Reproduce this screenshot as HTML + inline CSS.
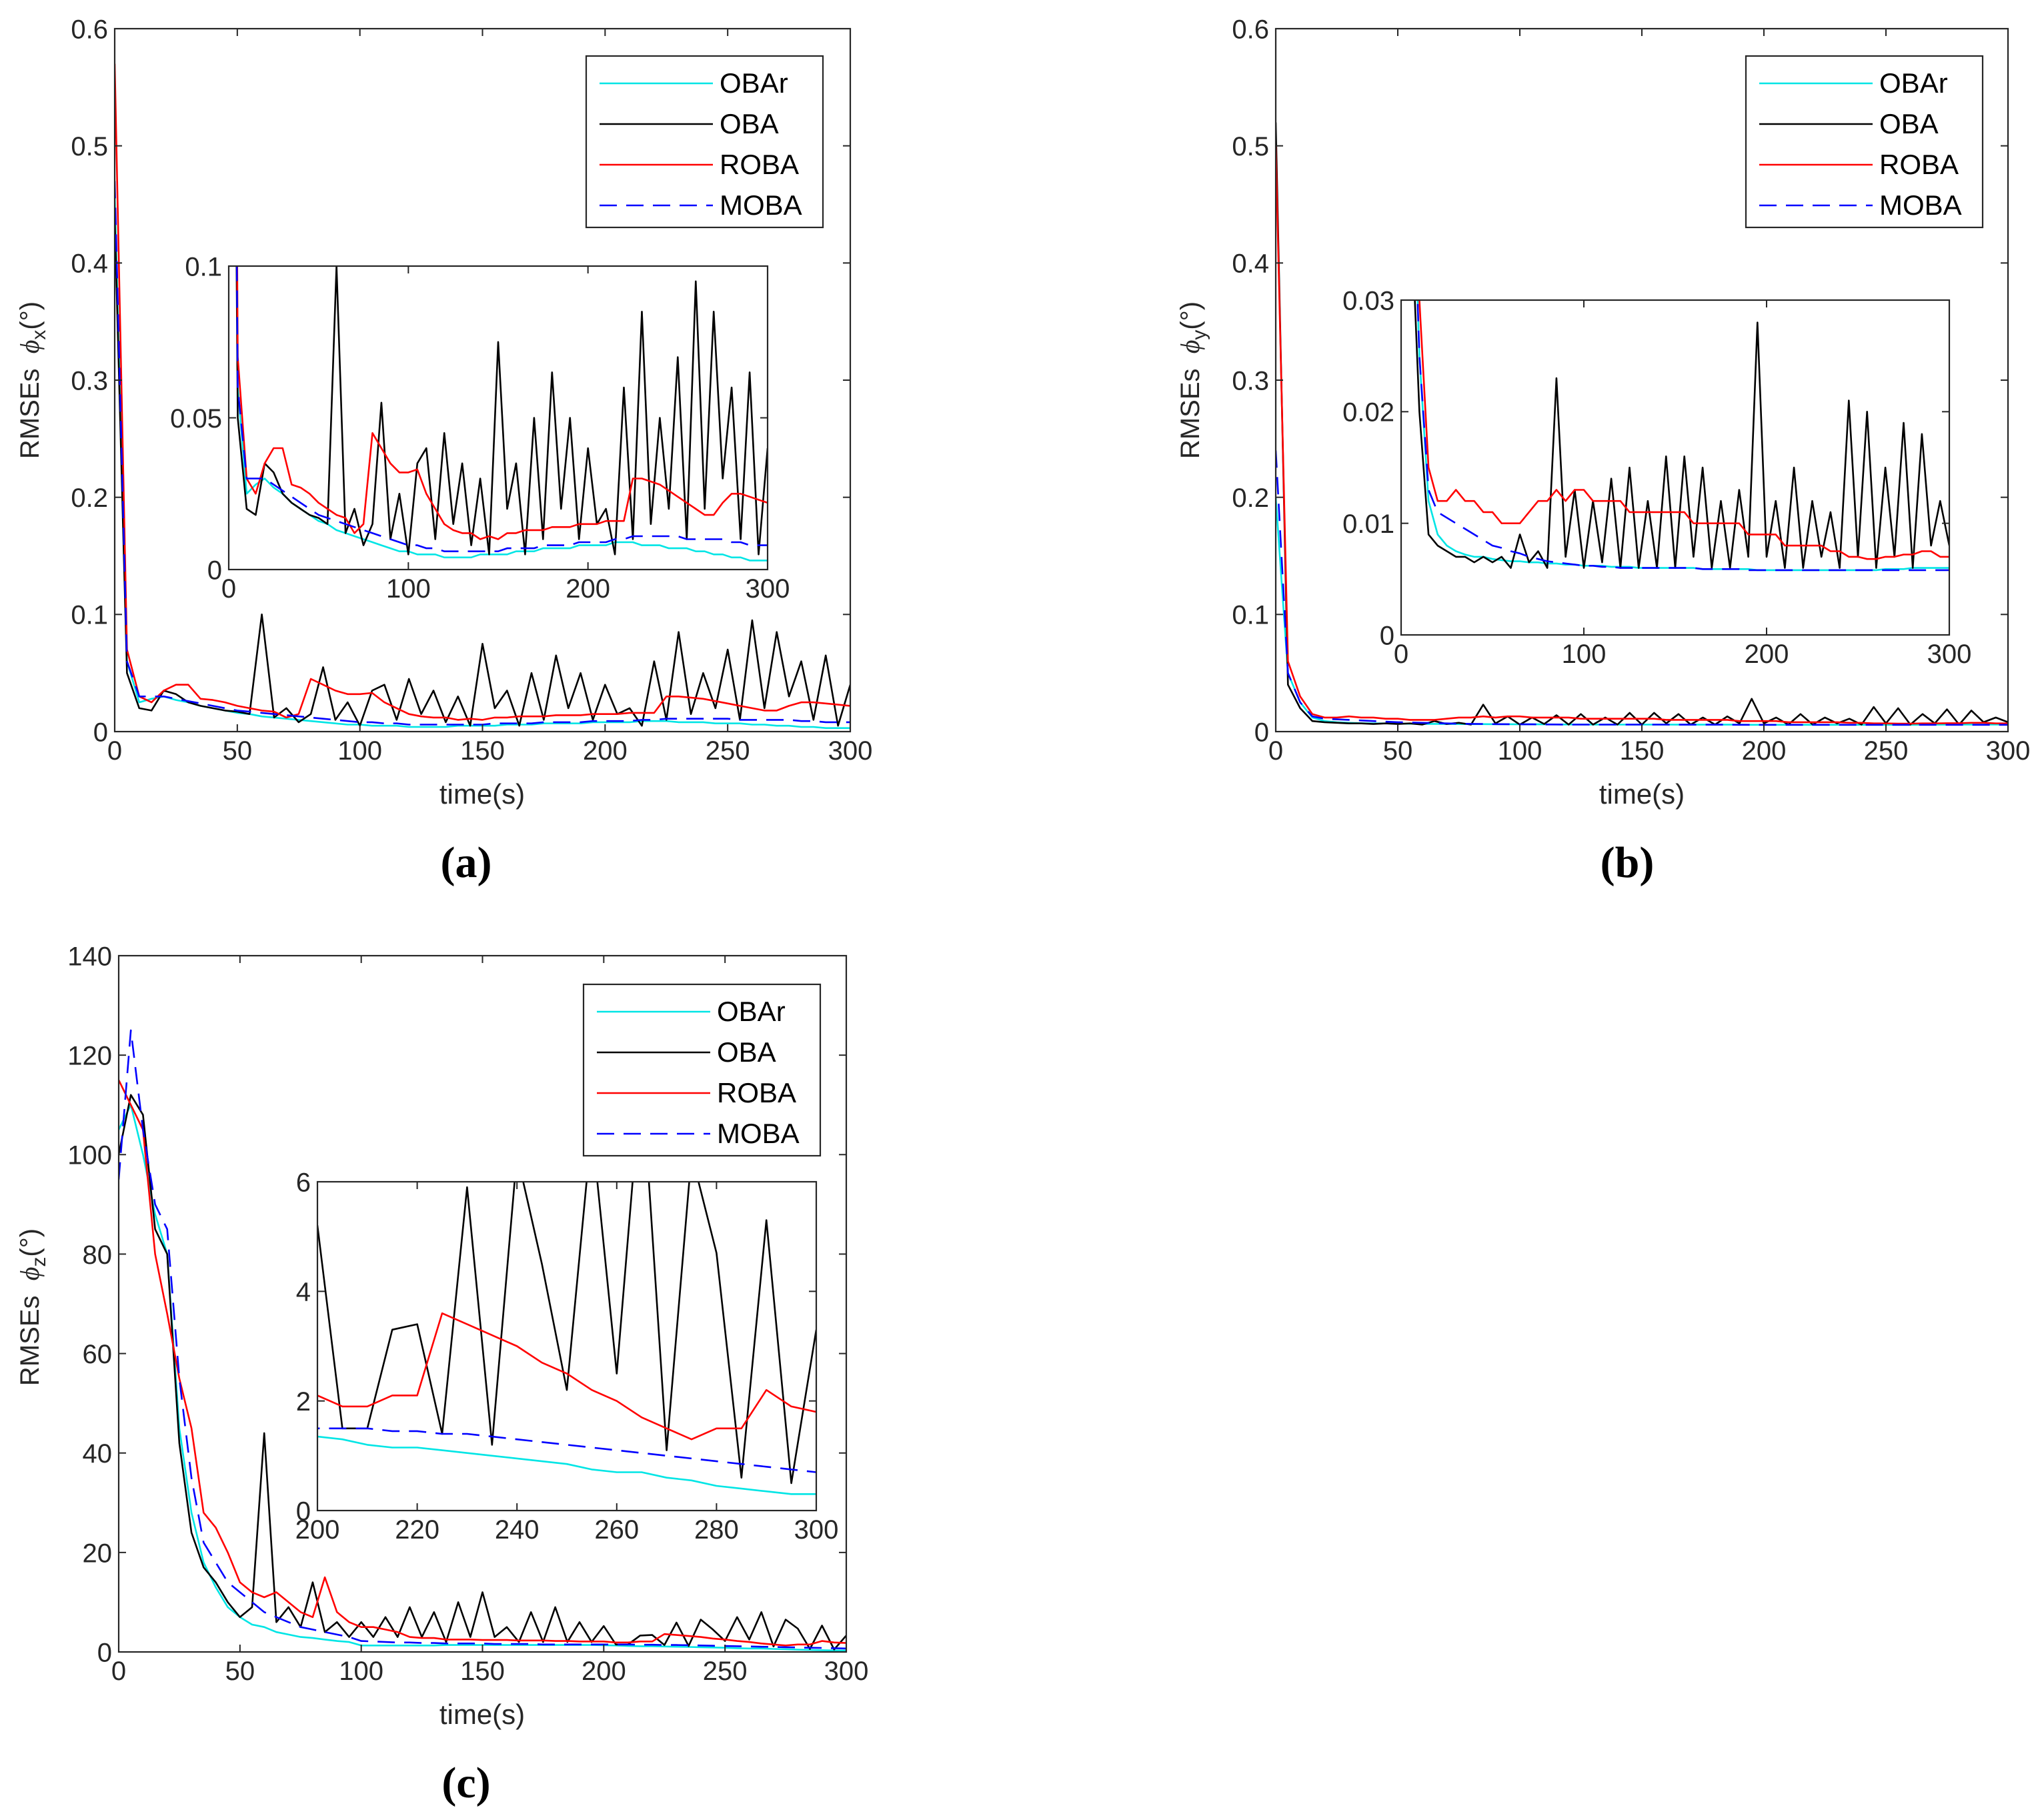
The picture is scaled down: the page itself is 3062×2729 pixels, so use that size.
<!DOCTYPE html>
<html><head><meta charset="utf-8">
<style>
html,body{margin:0;padding:0;background:#fff;}
svg{display:block;}
</style></head>
<body>
<svg id="fig" width="3062" height="2729" viewBox="0 0 3062 2729" xmlns="http://www.w3.org/2000/svg"></svg>
<script>
// time axis (s), one sample every 5 s
const timeA = [];
for (let i = 0; i <= 60; i++) timeA.push(i * 5);
const seriesNames = ["OBAr", "OBA", "ROBA", "MOBA"];

// Panel (a) phi_x
const aOBAr = [0.46,0.06,0.025,0.028,0.03,0.027,0.025,0.022,0.02,0.018,0.016,0.015,0.013,0.012,0.011,0.01,0.009,0.008,0.007,0.006,0.006,0.005,0.005,0.005,0.004,0.004,0.004,0.004,0.005,0.005,0.005,0.005,0.006,0.006,0.006,0.007,0.007,0.007,0.007,0.008,0.008,0.008,0.008,0.009,0.009,0.009,0.008,0.008,0.008,0.007,0.007,0.007,0.006,0.006,0.005,0.005,0.004,0.004,0.003,0.003,0.003];
const aOBA = [0.44,0.05,0.02,0.018,0.035,0.032,0.025,0.022,0.02,0.018,0.017,0.015,0.1,0.012,0.02,0.008,0.015,0.055,0.01,0.025,0.005,0.035,0.04,0.01,0.045,0.015,0.035,0.008,0.03,0.005,0.075,0.02,0.035,0.005,0.05,0.01,0.065,0.02,0.05,0.01,0.04,0.015,0.02,0.005,0.06,0.01,0.085,0.015,0.05,0.02,0.07,0.01,0.095,0.02,0.085,0.03,0.06,0.01,0.065,0.005,0.04];
const aROBA = [0.57,0.07,0.03,0.025,0.035,0.04,0.04,0.028,0.027,0.025,0.022,0.02,0.018,0.017,0.012,0.015,0.045,0.04,0.035,0.032,0.032,0.033,0.025,0.02,0.015,0.013,0.012,0.012,0.01,0.011,0.01,0.012,0.012,0.013,0.013,0.013,0.014,0.014,0.014,0.015,0.015,0.015,0.016,0.016,0.016,0.03,0.03,0.029,0.028,0.026,0.024,0.022,0.02,0.018,0.018,0.022,0.025,0.025,0.024,0.023,0.022];
const aMOBA = [0.47,0.06,0.03,0.03,0.03,0.028,0.026,0.024,0.022,0.02,0.018,0.017,0.016,0.015,0.014,0.013,0.012,0.011,0.01,0.009,0.008,0.008,0.007,0.007,0.006,0.006,0.006,0.006,0.006,0.006,0.006,0.007,0.007,0.007,0.007,0.008,0.008,0.008,0.008,0.009,0.009,0.009,0.009,0.01,0.01,0.011,0.011,0.011,0.011,0.011,0.011,0.01,0.01,0.01,0.01,0.01,0.009,0.009,0.008,0.008,0.008];

// Panel (b) phi_y
const bOBAr = [0.2,0.05,0.025,0.012,0.009,0.008,0.0075,0.0072,0.007,0.007,0.0068,0.0067,0.0066,0.0066,0.0065,0.0065,0.0064,0.0064,0.0063,0.0063,0.0062,0.0062,0.0062,0.0061,0.0061,0.0061,0.006,0.006,0.006,0.006,0.006,0.006,0.006,0.0059,0.0059,0.0059,0.0059,0.0059,0.0059,0.0058,0.0058,0.0058,0.0058,0.0058,0.0058,0.0058,0.0058,0.0058,0.0058,0.0058,0.0058,0.0058,0.0058,0.0059,0.0059,0.0059,0.006,0.006,0.006,0.006,0.006];
const bOBA = [0.52,0.04,0.02,0.009,0.008,0.0075,0.007,0.007,0.0065,0.007,0.0065,0.007,0.006,0.009,0.0065,0.0075,0.006,0.023,0.007,0.013,0.006,0.012,0.0065,0.014,0.006,0.015,0.006,0.012,0.006,0.016,0.006,0.016,0.007,0.015,0.006,0.012,0.006,0.013,0.007,0.028,0.007,0.012,0.006,0.015,0.006,0.012,0.007,0.011,0.006,0.021,0.007,0.02,0.006,0.015,0.007,0.019,0.006,0.018,0.008,0.012,0.008];
const bROBA = [0.5,0.06,0.03,0.015,0.012,0.012,0.013,0.012,0.012,0.011,0.011,0.01,0.01,0.01,0.011,0.012,0.012,0.013,0.012,0.013,0.013,0.012,0.012,0.012,0.012,0.011,0.011,0.011,0.011,0.011,0.011,0.011,0.01,0.01,0.01,0.01,0.01,0.01,0.009,0.009,0.009,0.009,0.008,0.008,0.008,0.008,0.008,0.0075,0.0075,0.007,0.007,0.0068,0.0068,0.007,0.007,0.0072,0.0072,0.0075,0.0075,0.007,0.007];
const bMOBA = [0.24,0.05,0.025,0.013,0.011,0.0105,0.01,0.0095,0.009,0.0085,0.008,0.0078,0.0075,0.0073,0.007,0.0068,0.0066,0.0065,0.0064,0.0063,0.0062,0.0062,0.0061,0.0061,0.006,0.006,0.006,0.006,0.006,0.006,0.006,0.006,0.006,0.0059,0.0059,0.0059,0.0059,0.0059,0.0058,0.0058,0.0058,0.0058,0.0058,0.0058,0.0058,0.0058,0.0058,0.0058,0.0058,0.0058,0.0058,0.0058,0.0058,0.0058,0.0058,0.0058,0.0058,0.0058,0.0058,0.0058,0.0058];

// Panel (c) phi_z
const cOBAr = [105,110,100,88,80,45,28,18,13,9,7,5.5,5,4,3.5,3,2.8,2.5,2.2,2,1.3,1.3,1.3,1.3,1.3,1.3,1.3,1.4,1.4,1.4,1.4,1.4,1.4,1.4,1.4,1.4,1.4,1.4,1.4,1.4,1.35,1.3,1.2,1.15,1.15,1.1,1.05,1.0,0.95,0.9,0.85,0.75,0.7,0.7,0.6,0.55,0.45,0.4,0.35,0.3,0.3];
const cOBA = [100,112,108,85,80,42,24,17,14,10,7,9,44,6,9,5,14,4,6,3,6,3,7,3,9,3,8,2,10,3,12,3,5,2,8,2,9,2,6,2,5.2,1.5,1.5,3.3,3.4,1.4,5.9,1.2,6.5,4.5,2.2,7,2.5,8,1.1,6.5,4.7,0.6,5.3,0.5,3.3];
const cROBA = [115,110,105,80,68,55,45,28,25,20,14,12,11,12,10,8,7,15,8,6,5,5,4.5,4,3,2.8,2.8,2.5,2.5,2.5,2.4,2.4,2.4,2.3,2.3,2.3,2.2,2.2,2.1,2.1,2.1,1.9,1.9,2.1,2.1,3.6,3.4,3.2,3.0,2.7,2.5,2.2,2.0,1.7,1.5,1.3,1.5,1.5,2.2,1.9,1.8];
const cMOBA = [95,125,105,90,85,55,35,22,18,14,12,10,8,7,6,5,4.5,4,3.5,3,2.2,2.1,2,1.9,1.9,1.8,1.8,1.7,1.7,1.7,1.7,1.6,1.6,1.6,1.6,1.5,1.5,1.5,1.5,1.5,1.5,1.5,1.5,1.45,1.45,1.4,1.4,1.35,1.3,1.25,1.2,1.15,1.1,1.05,1.0,0.95,0.9,0.85,0.8,0.75,0.7];

const mainXTicks = [0,50,100,150,200,250,300];
const yTicksA = [0,0.1,0.2,0.3,0.4,0.5,0.6];
const yTicksC = [0,20,40,60,80,100,120,140];
const insetXTicksAB = [0,100,200,300];
const insetYTicksA = [0,0.05,0.1];
const insetYTicksB = [0,0.01,0.02,0.03];
const insetXTicksC = [200,220,240,260,280,300];
const insetYTicksC = [0,2,4,6];

const NS = "http://www.w3.org/2000/svg";
const fig = document.getElementById("fig");
const colors = ["#00e5e5","#000000","#ff0000","#0000ff"];
const SANS = "font-family:'Liberation Sans',Arial,sans-serif;";
const SERIF = "font-family:'Liberation Serif','Times New Roman',serif;";
let clipId = 0;

function el(tag, attrs, parent) {
  const e = document.createElementNS(NS, tag);
  for (const k in attrs) e.setAttribute(k, attrs[k]);
  (parent || fig).appendChild(e);
  return e;
}

function axes(box, xr, yr, xt, yt, name, series) {
  const g = el("g", {});
  
  
  const sx = v => box.x + (v - xr[0]) / (xr[1] - xr[0]) * box.w;
  const sy = v => box.y + box.h - (v - yr[0]) / (yr[1] - yr[0]) * box.h;
  el("rect", {x: box.x, y: box.y, width: box.w, height: box.h, fill: "#fff", stroke: "none"}, g);
  const cid = "clip" + (clipId++);
  const cp = el("clipPath", {id: cid}, g);
  el("rect", {x: box.x, y: box.y, width: box.w, height: box.h}, cp);
  const lines = el("g", {"clip-path": "url(#" + cid + ")"}, g);
  series.forEach((s, si) => {
    let d = "";
    timeA.forEach((t, i) => { d += (i ? "L" : "M") + sx(t).toFixed(1) + " " + sy(s[i]).toFixed(1); });
    const p = el("path", {d: d, fill: "none", stroke: colors[si], "stroke-width": 2.6, "stroke-linejoin": "round"}, lines);
    if (si === 3) p.setAttribute("stroke-dasharray", "26 14");
    
    
  });
  el("rect", {x: box.x, y: box.y, width: box.w, height: box.h, fill: "none", stroke: "#262626", "stroke-width": 2.2}, g);
  const tl = 11;
  const fs = box.fs;
  xt.forEach(v => {
    const x = sx(v);
    el("line", {x1: x, y1: box.y + box.h, x2: x, y2: box.y + box.h - tl, stroke: "#262626", "stroke-width": 2}, g);
    el("line", {x1: x, y1: box.y, x2: x, y2: box.y + tl, stroke: "#262626", "stroke-width": 2}, g);
    const t = el("text", {x: x, y: box.y + box.h + fs * 1.05, "font-size": fs, "text-anchor": "middle", fill: "#262626", style: SANS}, g);
    t.textContent = String(v);
    
    
  });
  yt.forEach(v => {
    const y = sy(v);
    el("line", {x1: box.x, y1: y, x2: box.x + tl, y2: y, stroke: "#262626", "stroke-width": 2}, g);
    el("line", {x1: box.x + box.w, y1: y, x2: box.x + box.w - tl, y2: y, stroke: "#262626", "stroke-width": 2}, g);
    const t = el("text", {x: box.x - 10, y: y + fs * 0.36, "font-size": fs, "text-anchor": "end", fill: "#262626", style: SANS}, g);
    t.textContent = String(v);
    
    
  });
  return g;
}

function legend(x, y, name) {
  const g = el("g", {});
  
  
  el("rect", {x: x, y: y, width: 355, height: 257, fill: "#fff", stroke: "#262626", "stroke-width": 2.2}, g);
  seriesNames.forEach((n, i) => {
    const yy = y + 41 + i * 61;
    const l = el("line", {x1: x + 20, y1: yy, x2: x + 190, y2: yy, stroke: colors[i], "stroke-width": 2.6}, g);
    if (i === 3) l.setAttribute("stroke-dasharray", "26 14");
    const t = el("text", {x: x + 200, y: yy + 14, "font-size": 42, fill: "#000", style: SANS}, g);
    t.textContent = n;
    
    
  });
}

function ylabel(x, y, sub, name) {
  const t = el("text", {x: 0, y: 0, "font-size": 40, "text-anchor": "middle", fill: "#262626", style: SANS, transform: "translate(" + x + "," + y + ") rotate(-90)"});
  t.innerHTML = 'RMSEs&#160;&#160;<tspan style="font-family:\'Liberation Serif\',serif;font-style:italic">ϕ</tspan><tspan font-size="30" dy="10">' + sub + '</tspan><tspan dy="-10">(°)</tspan>';
  
  
}
function xlabel(x, y, name) {
  const t = el("text", {x: x, y: y, "font-size": 42, "text-anchor": "middle", fill: "#262626", style: SANS});
  t.textContent = "time(s)";
  
  
}
function caption(x, y, s, name) {
  const t = el("text", {x: x, y: y, "font-size": 66, "text-anchor": "middle", fill: "#000", "font-weight": "bold", style: SERIF});
  t.textContent = s;
  
  
}

// Panel (a)
axes({x:172,y:43,w:1103,h:1054,fs:40},[0,300],[0,0.6],mainXTicks,yTicksA,"panel-a-axes",[aOBAr,aOBA,aROBA,aMOBA]);
axes({x:343,y:399,w:808,h:455,fs:40},[0,300],[0,0.1],insetXTicksAB,insetYTicksA,"panel-a-inset",[aOBAr,aOBA,aROBA,aMOBA]);
legend(879,84,"panel-a-legend");
ylabel(58,570,"x","panel-a-y-axis-title");
xlabel(723,1205,"panel-a-x-axis-title");
caption(699,1315,"(a)","panel-a-caption");

// Panel (b)
axes({x:1913,y:43,w:1098,h:1054,fs:40},[0,300],[0,0.6],mainXTicks,yTicksA,"panel-b-axes",[bOBAr,bOBA,bROBA,bMOBA]);
axes({x:2101,y:450,w:822,h:502,fs:40},[0,300],[0,0.03],insetXTicksAB,insetYTicksB,"panel-b-inset",[bOBAr,bOBA,bROBA,bMOBA]);
legend(2618,84,"panel-b-legend");
ylabel(1798,570,"y","panel-b-y-axis-title");
xlabel(2462,1205,"panel-b-x-axis-title");
caption(2440,1315,"(b)","panel-b-caption");

// Panel (c)
axes({x:178,y:1433,w:1091,h:1044,fs:40},[0,300],[0,140],mainXTicks,yTicksC,"panel-c-axes",[cOBAr,cOBA,cROBA,cMOBA]);
axes({x:476,y:1772,w:748,h:493,fs:40},[200,300],[0,6],insetXTicksC,insetYTicksC,"panel-c-inset",[cOBAr,cOBA,cROBA,cMOBA]);
legend(875,1476,"panel-c-legend");
ylabel(58,1960,"z","panel-c-y-axis-title");
xlabel(723,2585,"panel-c-x-axis-title");
caption(699,2695,"(c)","panel-c-caption");
</script>
</body></html>
